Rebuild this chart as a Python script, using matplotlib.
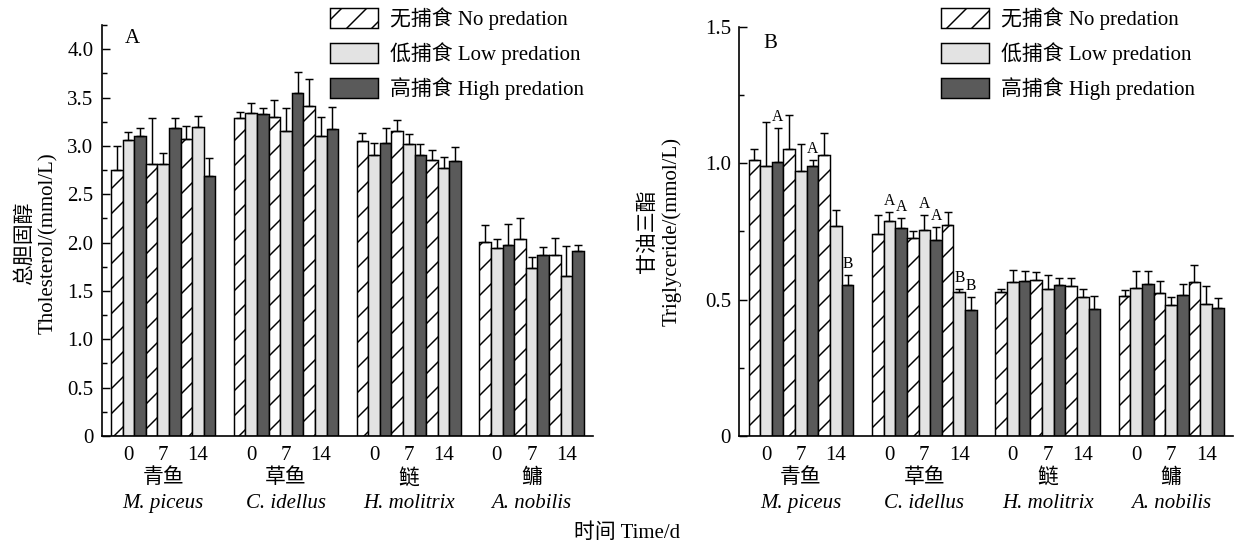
import numpy as np
import matplotlib.pyplot as plt
from matplotlib.patches import Patch
from matplotlib.ticker import MultipleLocator, FuncFormatter
from matplotlib.transforms import blended_transform_factory

plt.rcParams["font.family"] = ["Liberation Serif", "Noto Sans CJK SC"]
plt.rcParams["font.size"] = 10
plt.rcParams["hatch.linewidth"] = 0.7

species_cn = ["青鱼", "草鱼", "鲢", "鳙"]
species_latin = ["M. piceus", "C. idellus", "H. molitrix", "A. nobilis"]
days = ["0", "7", "14"]
treatments = ["无捕食 No predation", "低捕食 Low predation", "高捕食 High predation"]

# each row: day 0 (none, low, high), day 7 (none, low, high), day 14 (none, low, high)
chol_mean = [
    [2.75, 3.06, 3.10, 2.81, 2.81, 3.18, 3.07, 3.20, 2.69],
    [3.29, 3.34, 3.33, 3.30, 3.15, 3.55, 3.41, 3.10, 3.17],
    [3.05, 2.91, 3.03, 3.15, 3.02, 2.91, 2.85, 2.77, 2.84],
    [2.01, 1.94, 1.98, 2.04, 1.74, 1.87, 1.87, 1.65, 1.91],
]
chol_err = [
    [0.25, 0.08, 0.09, 0.48, 0.12, 0.11, 0.14, 0.11, 0.19],
    [0.06, 0.10, 0.06, 0.17, 0.24, 0.21, 0.28, 0.20, 0.23],
    [0.08, 0.12, 0.15, 0.12, 0.10, 0.11, 0.11, 0.12, 0.15],
    [0.17, 0.10, 0.21, 0.21, 0.11, 0.08, 0.18, 0.31, 0.07],
]
tg_mean = [
    [1.010, 0.990, 1.005, 1.050, 0.970, 0.990, 1.030, 0.770, 0.553],
    [0.740, 0.787, 0.763, 0.726, 0.755, 0.720, 0.774, 0.526, 0.460],
    [0.528, 0.566, 0.568, 0.572, 0.540, 0.553, 0.550, 0.510, 0.467],
    [0.513, 0.543, 0.557, 0.523, 0.480, 0.517, 0.564, 0.485, 0.470],
]
tg_err = [
    [0.040, 0.160, 0.125, 0.125, 0.100, 0.020, 0.080, 0.060, 0.037],
    [0.070, 0.033, 0.037, 0.024, 0.055, 0.045, 0.046, 0.014, 0.050],
    [0.012, 0.044, 0.038, 0.028, 0.050, 0.027, 0.028, 0.027, 0.046],
    [0.022, 0.063, 0.046, 0.045, 0.030, 0.040, 0.061, 0.065, 0.036],
]
tg_letters = [
    ["", "", "A", "", "", "A", "", "", "B"],
    ["", "A", "A", "", "A", "A", "", "B", "B"],
    [""] * 9,
    [""] * 9,
]

face = ["white", "#e3e3e3", "#5a5a5a"]
hatch = ["//", None, None]
group_step = 10.6

fig = plt.figure(figsize=(8.24, 3.6267), dpi=150)
ax_a = fig.add_axes([0.0823, 0.1985, 0.3975, 0.7555])
ax_b = fig.add_axes([0.5981, 0.1985, 0.3994, 0.7524])


def draw_panel(ax, means, errs, ymax, major, letters=None):
    for g in range(len(means)):
        x = g * group_step + np.arange(9) + 0.5
        for k in range(9):
            t = k % 3
            ax.bar(x[k], means[g][k], width=1, color=face[t], hatch=hatch[t],
                   edgecolor="black", linewidth=0.7, zorder=2)
        ax.errorbar(x, means[g], yerr=[np.zeros(9), errs[g]], fmt="none",
                    ecolor="black", elinewidth=0.7, capsize=1.7, capthick=0.7,
                    zorder=3)
        if letters:
            for k, lab in enumerate(letters[g]):
                if lab:
                    ax.annotate(lab, (x[k], means[g][k] + errs[g][k]),
                                xytext=(0, 1.5), textcoords="offset points",
                                ha="center", va="bottom", fontsize=7.5)

    ticks = [g * group_step + d for g in range(4) for d in (1.5, 4.5, 7.5)]
    ax.set_xticks(ticks, days * 4)
    ax.set_xlim(-0.8, 3 * group_step + 9 + 0.8)
    ax.set_ylim(0, ymax)
    ax.yaxis.set_major_locator(MultipleLocator(major))
    ax.yaxis.set_minor_locator(MultipleLocator(major / 2))
    ax.yaxis.set_major_formatter(
        FuncFormatter(lambda v, p: "0" if v == 0 else f"{v:.1f}"))
    ax.tick_params(axis="x", length=0, pad=5, labelsize=10)
    ax.tick_params(axis="y", which="major", direction="in", length=4,
                   width=0.7, labelsize=10, pad=4)
    ax.tick_params(axis="y", which="minor", direction="in", length=2.5,
                   width=0.7)
    for side in ("top", "right"):
        ax.spines[side].set_visible(False)
    for side in ("left", "bottom"):
        ax.spines[side].set_linewidth(0.8)

    trans = blended_transform_factory(ax.transData, ax.transAxes)
    for g in range(4):
        cx = g * group_step + 4.5
        ax.text(cx, -0.103, species_cn[g], transform=trans, ha="center",
                va="center", fontsize=10)
        ax.text(cx, -0.164, species_latin[g], transform=trans, ha="center",
                va="center", fontsize=10, style="italic")


draw_panel(ax_a, chol_mean, chol_err, 4.25, 0.5)
draw_panel(ax_b, tg_mean, tg_err, 1.5, 0.5, tg_letters)

ax_a.set_ylabel("总胆固醇\nTholesterol/(mmol/L)", fontsize=10, linespacing=1.3)
ax_a.yaxis.set_label_coords(-0.089, 0.47)
ax_b.set_ylabel("甘油三酯\nTriglyceride/(mmol/L)", fontsize=10, linespacing=1.3)
ax_b.yaxis.set_label_coords(-0.116, 0.5)

ax_a.text(0.062, 0.968, "A", transform=ax_a.transAxes, ha="center",
          va="center", fontsize=10)
ax_b.text(0.062, 0.958, "B", transform=ax_b.transAxes, ha="center",
          va="center", fontsize=10)

handles = [Patch(facecolor=face[i], hatch=hatch[i], edgecolor="black",
                 linewidth=0.7) for i in range(3)]
for ax, left in ((ax_a, 330), (ax_b, 941)):
    ax.legend(handles, treatments, loc="upper left",
              bbox_to_anchor=(left / 1236, 1 - 7 / 544),
              bbox_transform=fig.transFigure, frameon=False, borderpad=0,
              borderaxespad=0, handlelength=2.3, handleheight=1.1,
              handletextpad=0.6, labelspacing=0.58, fontsize=10)

fig.text(0.507, 1 - 533 / 544, "时间 Time/d", ha="center", va="center",
         fontsize=10)

fig.savefig("out.png", dpi=150)
